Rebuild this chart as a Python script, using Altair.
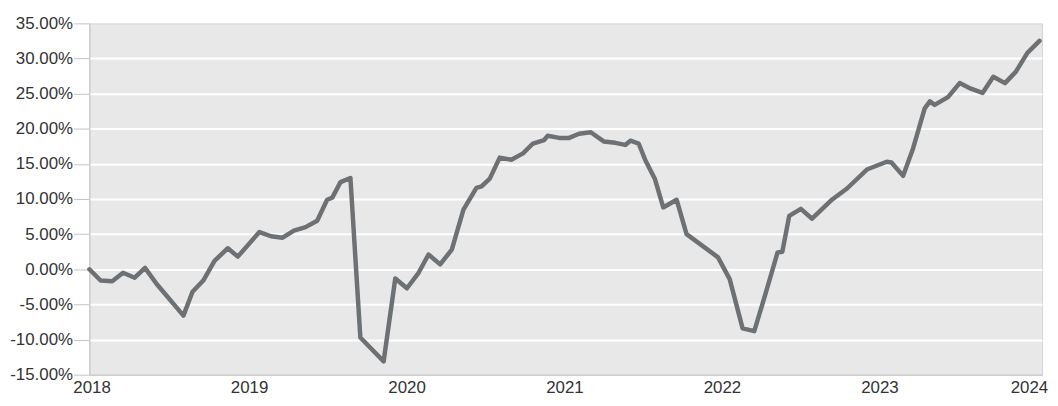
import altair as alt
import pandas as pd

dates = [
    "2017-12-27", "2018-01-22", "2018-02-18", "2018-03-15", "2018-04-11", "2018-05-05",
    "2018-06-01", "2018-08-02", "2018-08-23", "2018-09-17", "2018-10-13", "2018-11-13",
    "2018-12-06", "2019-01-25", "2019-02-21", "2019-03-20", "2019-04-15", "2019-05-12",
    "2019-06-08", "2019-07-01", "2019-07-13", "2019-08-01", "2019-08-24", "2019-09-16",
    "2019-11-09", "2019-12-06", "2020-01-02", "2020-01-29", "2020-02-21", "2020-03-19",
    "2020-04-15", "2020-05-12", "2020-06-11", "2020-06-23", "2020-07-12", "2020-08-04",
    "2020-08-31", "2020-09-27", "2020-10-20", "2020-11-15", "2020-11-23", "2020-12-20",
    "2021-01-12", "2021-02-04", "2021-03-03", "2021-04-02", "2021-04-29", "2021-05-22",
    "2021-06-03", "2021-06-22", "2021-07-07", "2021-07-30", "2021-08-18", "2021-09-18",
    "2021-10-11", "2021-12-23", "2022-01-19", "2022-02-18", "2022-03-17", "2022-04-13",
    "2022-05-10", "2022-05-21", "2022-06-06", "2022-07-03", "2022-07-29", "2022-09-13",
    "2022-10-18", "2022-12-03", "2023-01-18", "2023-01-29", "2023-02-25", "2023-03-20",
    "2023-04-16", "2023-04-28", "2023-05-09", "2023-06-09", "2023-07-06", "2023-08-01",
    "2023-08-28", "2023-09-22", "2023-10-19", "2023-11-13", "2023-12-10", "2024-01-07",
]
returns_pct = [
    0.0, -1.6, -1.7, -0.5, -1.2, 0.2,
    -2.1, -6.6, -3.2, -1.6, 1.2, 3.0,
    1.8, 5.3, 4.7, 4.5, 5.5, 6.0,
    6.9, 9.9, 10.2, 12.4, 13.0, -9.7,
    -13.1, -1.3, -2.7, -0.5, 2.1, 0.7,
    2.8, 8.5, 11.6, 11.8, 12.9, 15.9,
    15.6, 16.5, 17.9, 18.4, 19.0, 18.7,
    18.7, 19.3, 19.5, 18.2, 18.0, 17.7,
    18.3, 17.9, 15.6, 12.8, 8.8, 9.9,
    5.0, 1.7, -1.4, -8.4, -8.8, -3.3,
    2.4, 2.5, 7.6, 8.6, 7.2, 9.9,
    11.5, 14.2, 15.3, 15.2, 13.3, 17.2,
    22.9, 23.9, 23.4, 24.5, 26.5, 25.7,
    25.1, 27.4, 26.5, 28.1, 30.8, 32.5,
]
y_ticks = [-15, -10, -5, 0, 5, 10, 15, 20, 25, 30, 35]
x_tick_years = ["2018-01-01", "2019-01-01", "2020-01-01", "2021-01-01",
                "2022-01-01", "2023-01-01", "2024-01-01"]
x_domain = ["2017-12-27", "2024-01-13"]

df = pd.DataFrame({"date": dates, "ret": returns_pct})

FONT = "Liberation Sans"

line = alt.Chart(df).mark_line(
    color="#6d7174", strokeWidth=4.5, strokeCap="round", strokeJoin="round"
).encode(
    x=alt.X(
        "date:T",
        scale=alt.Scale(domain=x_domain),
        axis=alt.Axis(
            title=None,
            values=[alt.DateTime(year=int(d[:4]), month=1, date=1) for d in x_tick_years],
            format="%Y",
            ticks=False,
            grid=False,
            domainColor="#c4c4c4",
            labelPadding=18,
            labelFont=FONT,
            labelFontSize=17,
            labelColor="#333333",
            labelBaseline="alphabetic",
            labelOffset={"condition": {"test": "year(datum.value) == 2024", "value": -8}, "value": 0},
        ),
    ),
    y=alt.Y(
        "ret:Q",
        scale=alt.Scale(domain=[-15, 35], nice=False, zero=False),
        axis=alt.Axis(
            title=None,
            values=y_ticks,
            labelExpr="(datum.value < 0 ? '-' : '') + format(abs(datum.value), '.2f') + '%'",
            tickSize=16,
            tickColor="#c4c4c4",
            domainColor="#c4c4c4",
            labelPadding=1,
            labelFont=FONT,
            labelFontSize=17,
            labelColor="#333333",
            grid=True,
            gridColor={"condition": {"test": "datum.value == 35 || datum.value == -15",
                                     "value": "transparent"}, "value": "#ffffff"},
            gridWidth=2,
        ),
    ),
)

chart = line.properties(
    width=960,
    height=354,
    autosize=alt.AutoSizeParams(type="none"),
    padding={"left": 82, "top": 14, "right": 8, "bottom": 22},
).configure(
    background="#ffffff",
    view=alt.ViewConfig(fill="#e8e8e8", stroke="#d4d4d4", strokeWidth=1),
)

chart.save("out.html", embed_options={"renderer": "svg", "actions": False})
